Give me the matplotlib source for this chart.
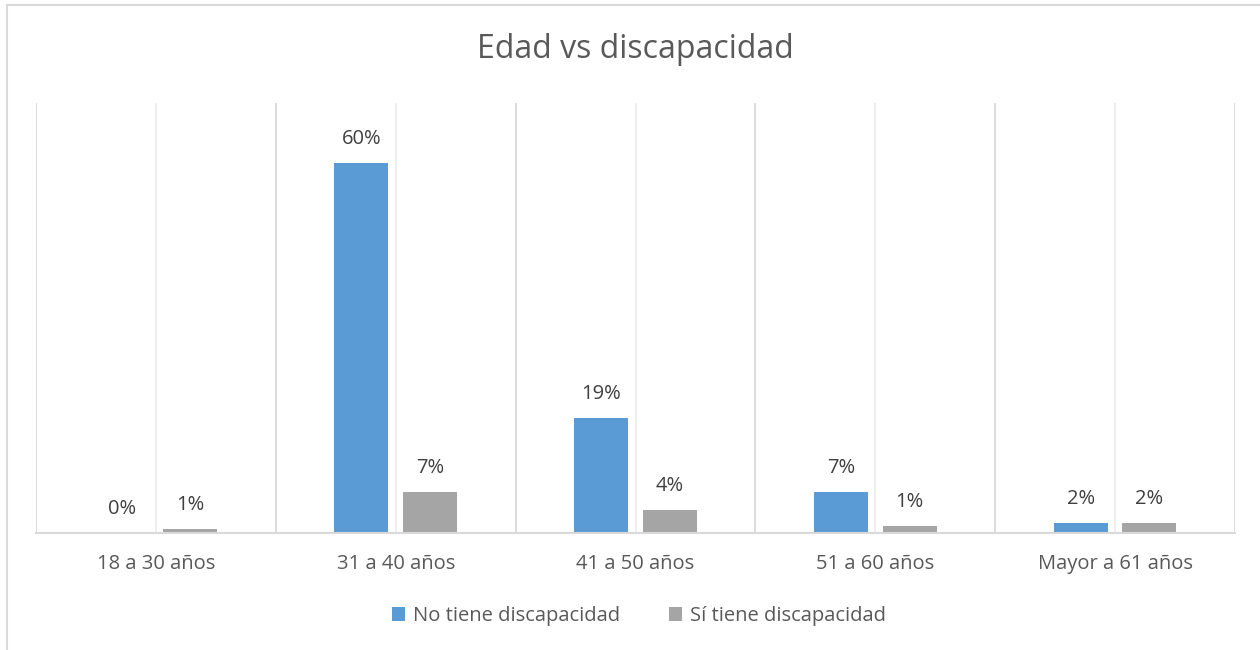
import matplotlib.pyplot as plt
import numpy as np
from matplotlib.lines import Line2D

# data
categories = ["18 a 30 años", "31 a 40 años", "41 a 50 años", "51 a 60 años", "Mayor a 61 años"]
series_names = ["No tiene discapacidad", "Sí tiene discapacidad"]
no_tiene = [0.0, 0.60, 0.186, 0.066, 0.016]
si_tiene = [0.006, 0.066, 0.037, 0.011, 0.016]
colors = ["#5b9bd5", "#a5a5a5"]

plt.rcParams["font.family"] = ["Open Sans", "DejaVu Sans"]
text_color = "#595959"

fig = plt.figure(figsize=(12.6, 6.5), dpi=100)
ax = fig.add_axes([36 / 1260, 117 / 650, 1199 / 1260, 430 / 650])

x = np.arange(len(categories))
w = 0.225
off = 0.143
bars_no = ax.bar(x - off, no_tiene, w, color=colors[0], label=series_names[0], zorder=3)
bars_si = ax.bar(x + off, si_tiene, w, color=colors[1], label=series_names[1], zorder=3)

# data labels
for bars, vals in [(bars_no, no_tiene), (bars_si, si_tiene)]:
    for b, v in zip(bars, vals):
        ax.annotate(f"{round(v * 100):.0f}%", (b.get_x() + b.get_width() / 2, v),
                    xytext=(0, 10), textcoords="offset points", ha="center", va="bottom",
                    fontsize=14.5, color="#404040")

ax.set_xlim(-0.5, len(categories) - 0.5)
ax.set_ylim(0, 0.697)

# vertical gridlines: darker at category boundaries, lighter at centres
for k in range(len(categories) + 1):
    ax.axvline(k - 0.5, color="#d9d9d9", lw=1.3, zorder=1)
for k in range(len(categories)):
    ax.axvline(k, color="#ededed", lw=1.3, zorder=1)

ax.set_xticks(x)
ax.set_xticklabels(categories, fontsize=14.5, color=text_color)
ax.tick_params(axis="x", length=0, pad=15)
ax.set_yticks([])
for s in ["top", "left", "right"]:
    ax.spines[s].set_visible(False)
ax.spines["bottom"].set_color("#d9d9d9")
ax.spines["bottom"].set_linewidth(1.5)
ax.spines["bottom"].set_zorder(4)

fig.text(0.5045, 1 - 50 / 650, "Edad vs discapacidad", ha="center", va="center",
         fontsize=23, color=text_color)

fig.legend(loc="center", bbox_to_anchor=(0.507, 1 - 616 / 650), ncol=2, frameon=False,
           fontsize=14.5, labelcolor=text_color, handlelength=0.65, handleheight=0.65,
           handletextpad=0.4, columnspacing=2.4)

# chart frame (top and left edges visible)
fig.add_artist(Line2D([7 / 1260, 1], [1 - 5 / 650, 1 - 5 / 650], color="#d9d9d9", lw=1.5))
fig.add_artist(Line2D([7 / 1260, 7 / 1260], [0, 1 - 5 / 650], color="#d9d9d9", lw=1.5))

fig.savefig("out.png", dpi=100, facecolor="white")
